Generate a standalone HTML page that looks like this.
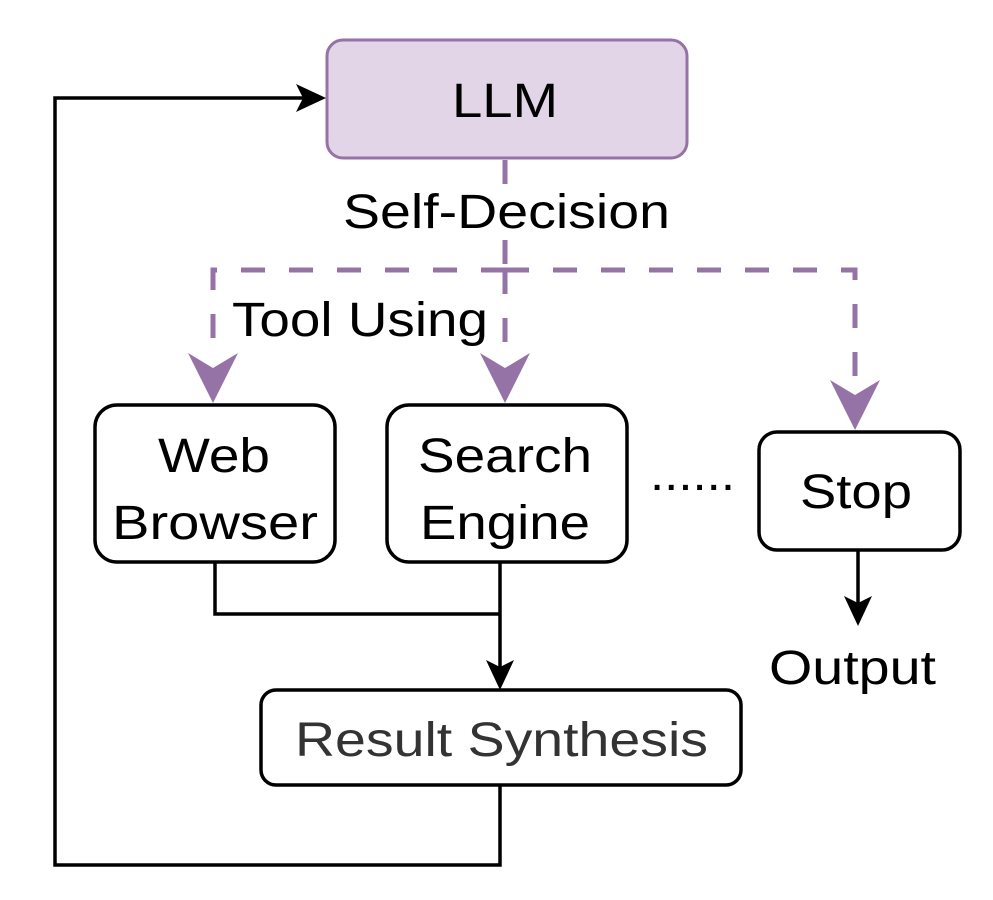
<!DOCTYPE html>
<html><head><style>body{margin:0;background:#fff}svg{display:block}text{font-family:"Liberation Sans",Arial,sans-serif}</style></head>
<body>
<svg width="993" height="900" viewBox="0 0 993 900" xmlns="http://www.w3.org/2000/svg">
<g fill="none" stroke="#9673a6" stroke-width="5" stroke-dasharray="24 24">
<path d="M505 160 V186"/>
<path d="M505 240 V275 M505 270 H855 V380"/>
<path d="M505 270 H213 V360"/>
<path d="M505 270 V360"/>
</g>
<g fill="#9673a6">
<path d="M188 353 L213 368 L238 353 L213 403 Z"/>
<path d="M480 353 L505 368 L530 353 L505 403 Z"/>
<path d="M830 380 L855 395 L880 380 L855 430 Z"/>
</g>
<rect x="327" y="40" width="360" height="118" rx="16" fill="#e1d5e7" stroke="#9673a6" stroke-width="3"/>
<g font-size="48" lengthAdjust="spacingAndGlyphs">
<text x="452" y="117" textLength="106" lengthAdjust="spacingAndGlyphs">LLM</text>
<text x="343" y="228" textLength="327" lengthAdjust="spacingAndGlyphs">Self-Decision</text>
<text x="232" y="336" textLength="256" lengthAdjust="spacingAndGlyphs">Tool Using</text>
</g>
<g fill="none" stroke="#000" stroke-width="3.5">
<rect x="95" y="405" width="240" height="157" rx="22"/>
<rect x="387" y="405" width="240" height="157" rx="22"/>
<rect x="759" y="432" width="201" height="118" rx="18"/>
<rect x="261" y="690" width="480" height="95" rx="15"/>
<path d="M215 562 V614 H500"/>
<path d="M500 562 V675"/>
<path d="M858 550 V610"/>
<path d="M500 785 V865 H55 V98 H310"/>
</g>
<g fill="#000">
<path d="M486 660 L500 667 L514 660 L500 690 Z"/>
<path d="M844 596 L858 603 L872 596 L858 626 Z"/>
<path d="M296 84 L303 98 L296 112 L326 98 Z"/>
</g>
<g font-size="48">
<text x="158" y="472" textLength="112" lengthAdjust="spacingAndGlyphs">Web</text>
<text x="112" y="539" textLength="206" lengthAdjust="spacingAndGlyphs">Browser</text>
<text x="418" y="472" textLength="174" lengthAdjust="spacingAndGlyphs">Search</text>
<text x="420" y="539" textLength="170" lengthAdjust="spacingAndGlyphs">Engine</text>
<text x="800" y="508" textLength="112" lengthAdjust="spacingAndGlyphs">Stop</text>
<text x="650" y="490" textLength="85" lengthAdjust="spacingAndGlyphs">......</text>
<text x="769" y="684" textLength="167" lengthAdjust="spacingAndGlyphs">Output</text>
<text x="295" y="756" fill="#333" textLength="413" lengthAdjust="spacingAndGlyphs">Result Synthesis</text>
</g>
</svg>
</body></html>
